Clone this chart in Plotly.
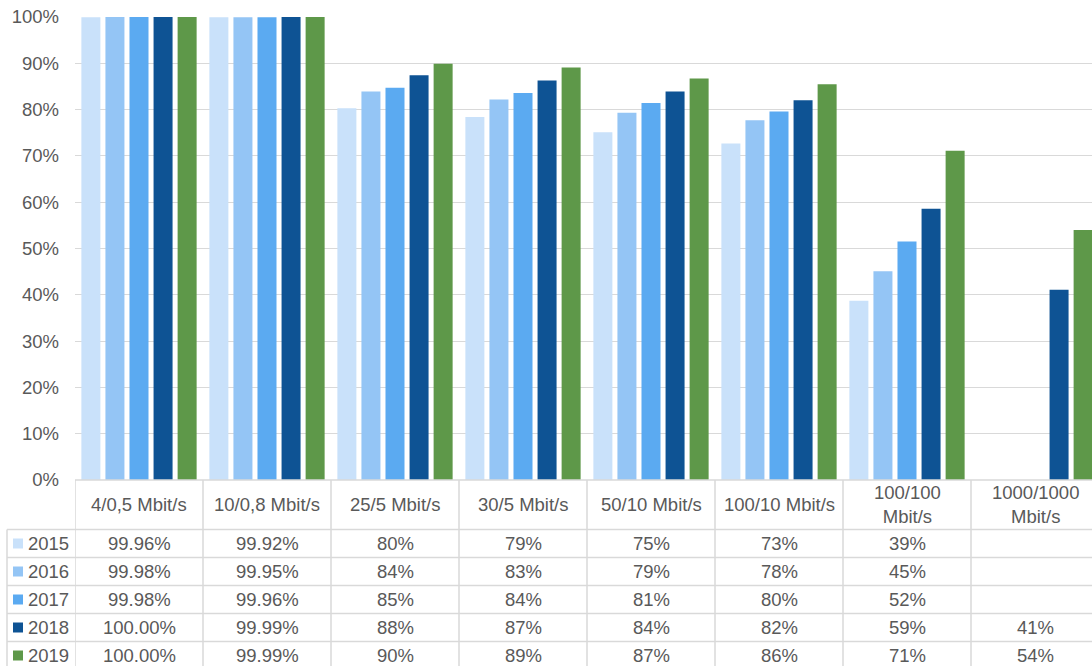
import plotly.graph_objects as go

categories = ["4/0,5 Mbit/s", "10/0,8 Mbit/s", "25/5 Mbit/s", "30/5 Mbit/s",
              "50/10 Mbit/s", "100/10 Mbit/s", "100/100<br>Mbit/s", "1000/1000<br>Mbit/s"]
years = ["2015", "2016", "2017", "2018", "2019"]

v2015 = [99.96, 99.92, 80.3, 78.4, 75.1, 72.7, 38.7, None]
v2016 = [99.98, 99.95, 83.9, 82.2, 79.3, 77.7, 45.1, None]
v2017 = [99.98, 99.96, 84.7, 83.6, 81.4, 79.6, 51.5, None]
v2018 = [100.0, 99.99, 87.4, 86.3, 83.9, 82.0, 58.6, 41.1]
v2019 = [100.0, 99.99, 89.9, 89.1, 86.7, 85.5, 71.1, 54.0]

t2015 = ["99.96%", "99.92%", "80%", "79%", "75%", "73%", "39%", ""]
t2016 = ["99.98%", "99.95%", "84%", "83%", "79%", "78%", "45%", ""]
t2017 = ["99.98%", "99.96%", "85%", "84%", "81%", "80%", "52%", ""]
t2018 = ["100.00%", "99.99%", "88%", "87%", "84%", "82%", "59%", "41%"]
t2019 = ["100.00%", "99.99%", "90%", "89%", "87%", "86%", "71%", "54%"]

tick_vals = [0, 10, 20, 30, 40, 50, 60, 70, 80, 90, 100]
tick_text = ["0%", "10%", "20%", "30%", "40%", "50%", "60%", "70%", "80%", "90%", "100%"]

values = [v2015, v2016, v2017, v2018, v2019]
texts = [t2015, t2016, t2017, t2018, t2019]
colors = ["#C9E1FA", "#94C5F5", "#5BAAF1", "#0E5394", "#5E9849"]

W, H = 1092, 666
ML, MR, MT, MB = 75, 0, 17, 186
PW = W - ML - MR
PH = H - MT - MB
BOTTOM = H - MB  # pixel y of plot bottom


def py(p):
    return (BOTTOM - p) / PH


def px(p):
    return (p - ML) / PW


FONT = "Liberation Sans, Arial, sans-serif"
TXT = "#595959"
LINE = "#D9D9D9"
FS = 18.5

fig = go.Figure()
xs = list(range(len(categories)))
for y, vals, col in zip(years, values, colors):
    fig.add_trace(go.Bar(x=xs, y=vals, name=y, marker=dict(color=col, line=dict(width=0)),
                         showlegend=False))

shapes = []
annotations = []

# table geometry
header_top = BOTTOM
header_bot = 529.5
row_h = 28.0
row_tops = [header_bot + i * row_h for i in range(5)]
table_bottom = 672

# horizontal lines
shapes.append(dict(type="line", xref="paper", yref="paper", x0=0, x1=1,
                   y0=py(header_top), y1=py(header_top), line=dict(color=LINE, width=1.5)))
for rt in row_tops:
    shapes.append(dict(type="line", xref="paper", yref="paper", x0=px(7), x1=1,
                       y0=py(rt), y1=py(rt), line=dict(color=LINE, width=1.5)))
# vertical lines
shapes.append(dict(type="line", xref="paper", yref="paper", x0=px(7), x1=px(7),
                   y0=py(header_bot), y1=py(table_bottom), line=dict(color=LINE, width=1.5)))
for i in range(len(categories)):
    shapes.append(dict(type="line", xref="x", yref="paper", x0=i - 0.5, x1=i - 0.5,
                       y0=py(header_top), y1=py(table_bottom), line=dict(color=LINE, width=1.5)))

# header labels
for i, c in enumerate(categories):
    annotations.append(dict(xref="x", yref="paper", x=i, y=py((header_top + header_bot) / 2),
                            text=c, showarrow=False, xanchor="center", yanchor="middle",
                            font=dict(family=FONT, size=FS, color=TXT)))

# rows
for r, (y, col, tx) in enumerate(zip(years, colors, texts)):
    cy = row_tops[r] + row_h / 2
    shapes.append(dict(type="rect", xref="paper", yref="paper", x0=px(13), x1=px(23),
                       y0=py(cy - 5), y1=py(cy + 5), fillcolor=col, line=dict(width=0)))
    annotations.append(dict(xref="paper", yref="paper", x=px(26), y=py(cy), text=y,
                            showarrow=False, xanchor="left", yanchor="middle",
                            font=dict(family=FONT, size=FS, color=TXT)))
    for i, t in enumerate(tx):
        if t:
            annotations.append(dict(xref="x", yref="paper", x=i, y=py(cy), text=t,
                                    showarrow=False, xanchor="center", yanchor="middle",
                                    font=dict(family=FONT, size=FS, color=TXT)))

fig.update_layout(
    width=W, height=H,
    margin=dict(l=ML, r=MR, t=MT, b=MB, pad=0),
    paper_bgcolor="white", plot_bgcolor="white",
    barmode="group", bargap=0.06, bargroupgap=0.21,
    shapes=shapes, annotations=annotations,
    xaxis=dict(range=[-0.5, -0.5 + PW / 128.0], showticklabels=False, showgrid=False,
               zeroline=False, showline=False, ticks=""),
    yaxis=dict(range=[0, 100], tickvals=tick_vals, ticktext=tick_text,
               showgrid=True, gridcolor=LINE, gridwidth=1.3, zeroline=False, showline=False,
               ticks="", ticklabelstandoff=15,
               tickfont=dict(family=FONT, size=FS, color=TXT)),
    font=dict(family=FONT, size=FS, color=TXT),
)

fig.write_html("out.html")
